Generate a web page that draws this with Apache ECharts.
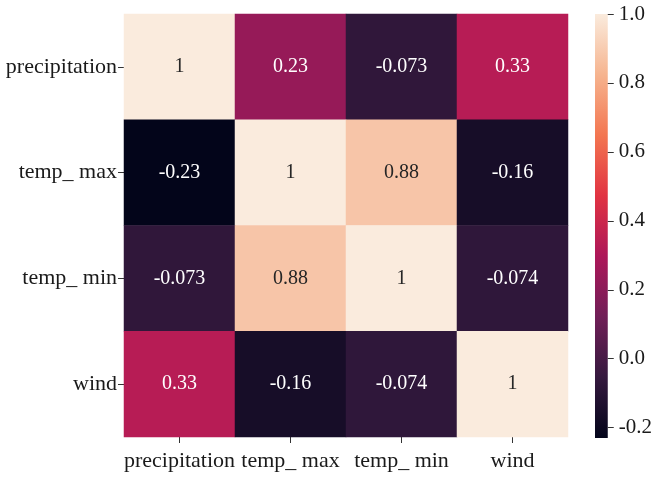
<!DOCTYPE html>
<html>
<head>
<meta charset="utf-8">
<script src="https://cdn.jsdelivr.net/npm/echarts@6/dist/echarts.min.js"></script>
<style>
  html, body { margin: 0; padding: 0; background: #ffffff; }
  #chart { width: 655px; height: 479px; }
</style>
</head>
<body>
<div id="chart"></div>
<script>
// Correlation matrix of the weather variables
const variables = ['precipitation', 'temp_ max', 'temp_ min', 'wind'];
const rowPrecipitation = [1, 0.23, -0.073, 0.33];
const rowTempMax = [-0.23, 1, 0.88, -0.16];
const rowTempMin = [-0.073, 0.88, 1, -0.074];
const rowWind = [0.33, -0.16, -0.074, 1];
const matrixRows = [rowPrecipitation, rowTempMax, rowTempMin, rowWind];

// Colour bar ticks
const colorbarTicks = [-0.2, 0.0, 0.2, 0.4, 0.6, 0.8, 1.0];

// "rocket" sequential palette
const rocket = ['#03051a', '#35193e', '#701f57', '#ad1759', '#e13342', '#f37651', '#f6b48f', '#faebdd'];

const allValues = matrixRows.flat();
const vmin = Math.min.apply(null, allValues);
const vmax = Math.max.apply(null, allValues);

const serif = 'Liberation Serif';

function fmt2g(v) {
  return String(Number(v.toPrecision(2)));
}

const heatData = [];
matrixRows.forEach(function (row, r) {
  row.forEach(function (v, c) {
    const t = (v - vmin) / (vmax - vmin);
    heatData.push({
      value: [c, r, v],
      label: { color: t > 0.62 ? '#262626' : '#ffffff' }
    });
  });
});

const chart = echarts.init(document.getElementById('chart'), null, { renderer: 'canvas' });

chart.setOption({
  backgroundColor: '#ffffff',
  animation: false,
  grid: [
    { left: 124, top: 14, width: 444, height: 423 },
    {
      left: 595, top: 14, width: 18, height: 424,
      show: true, borderWidth: 0,
      backgroundColor: new echarts.graphic.LinearGradient(0, 1, 0, 0,
        rocket.map(function (c, i) { return { offset: i / (rocket.length - 1), color: c }; }))
    }
  ],
  xAxis: [
    {
      type: 'category', gridIndex: 0, data: variables, position: 'bottom',
      axisLine: { show: false },
      axisTick: { show: true, length: 6, alignWithLabel: true, interval: 0, lineStyle: { color: '#333333', width: 1 } },
      axisLabel: { fontFamily: serif, fontSize: 22, color: '#1a1a1a', margin: 13, interval: 0, hideOverlap: false },
      splitLine: { show: false }
    },
    { type: 'category', gridIndex: 1, data: [''], show: false }
  ],
  yAxis: [
    {
      type: 'category', gridIndex: 0, data: variables, inverse: true,
      axisLine: { show: false },
      axisTick: { show: true, length: 6, alignWithLabel: true, interval: 0, lineStyle: { color: '#333333', width: 1 } },
      axisLabel: { fontFamily: serif, fontSize: 22, color: '#1a1a1a', margin: 7, interval: 0, padding: [3, 0, 0, 0] },
      splitLine: { show: false }
    },
    {
      type: 'value', gridIndex: 1, min: vmin, max: vmax, position: 'right',
      axisLine: { show: false },
      axisTick: { show: true, length: 6, customValues: colorbarTicks, lineStyle: { color: '#333333', width: 1 } },
      axisLabel: {
        fontFamily: serif, fontSize: 21, color: '#1a1a1a', margin: 11,
        customValues: colorbarTicks,
        formatter: function (v) { return v.toFixed(1); }
      },
      splitLine: { show: false }
    }
  ],
  visualMap: {
    type: 'continuous', show: false, min: vmin, max: vmax,
    seriesIndex: 0, dimension: 2,
    inRange: { color: rocket }
  },
  series: [
    {
      type: 'heatmap', xAxisIndex: 0, yAxisIndex: 0,
      data: heatData,
      label: {
        show: true, fontFamily: serif, fontSize: 20,
        formatter: function (p) { return fmt2g(p.value[2]); }
      },
      itemStyle: { borderWidth: 0 },
      emphasis: { disabled: true }
    }
  ]
});
</script>
</body>
</html>
